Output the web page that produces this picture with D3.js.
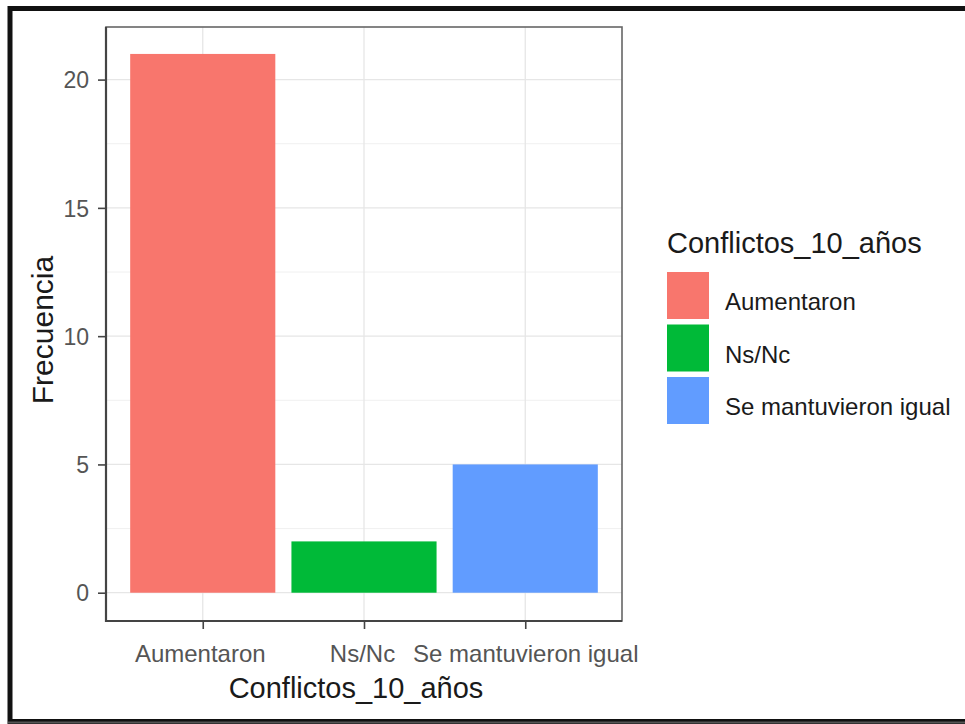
<!DOCTYPE html>
<html>
<head>
<meta charset="utf-8">
<script src="https://cdn.jsdelivr.net/npm/d3@7"></script>
<style>
  html, body { margin: 0; padding: 0; background: #fff; }
  svg text { font-family: "Liberation Sans", Arial, sans-serif; }
</style>
</head>
<body>
<svg id="chart" width="965" height="724"></svg>
<script>
// valores
var categories = ['Aumentaron', 'Ns/Nc', 'Se mantuvieron igual'];
var counts = [21, 2, 5];
var colors = ['#F8766D', '#00BA38', '#619CFF'];
var yTicks = [0, 5, 10, 15, 20];
var yMinor = [2.5, 7.5, 12.5, 17.5];
var xTitle = 'Conflictos_10_años';
var yTitle = 'Frecuencia';
var legendTitle = 'Conflictos_10_años';

var svg = d3.select('#chart');

// marco negro alrededor de la imagen
svg.append('rect').attr('x', 10).attr('y', 8.5).attr('width', 970).attr('height', 713)
  .attr('fill', 'none').attr('stroke', '#111').attr('stroke-width', 5);
svg.append('line').attr('x1', 8).attr('x2', 965).attr('y1', 722.5).attr('y2', 722.5)
  .attr('stroke', '#555').attr('stroke-width', 2);

var P = { l: 106, t: 27, r: 622, b: 621 };

var x = d3.scaleLinear().domain([0.4, 3.6]).range([P.l, P.r]);
var yMax = d3.max(counts) * 1.05;
var y = d3.scaleLinear().domain([-yMax * 0.05, yMax]).range([P.b, P.t]);
var bw = (x(1.9) - x(1)); // ancho de barra 0.9

var g = svg.append('g');

// rejilla
g.selectAll('.minor').data(yMinor).enter().append('line')
  .attr('x1', P.l).attr('x2', P.r)
  .attr('y1', function (d) { return y(d); }).attr('y2', function (d) { return y(d); })
  .attr('stroke', '#f0f0f0').attr('stroke-width', 1);
g.selectAll('.major').data(yTicks).enter().append('line')
  .attr('x1', P.l).attr('x2', P.r)
  .attr('y1', function (d) { return y(d); }).attr('y2', function (d) { return y(d); })
  .attr('stroke', '#e6e6e6').attr('stroke-width', 1.3);
g.selectAll('.vgrid').data(categories).enter().append('line')
  .attr('x1', function (d, i) { return x(i + 1); }).attr('x2', function (d, i) { return x(i + 1); })
  .attr('y1', P.t).attr('y2', P.b)
  .attr('stroke', '#e6e6e6').attr('stroke-width', 1.3);

// barras
g.selectAll('.bar').data(counts).enter().append('rect')
  .attr('x', function (d, i) { return x(i + 1) - bw / 2; })
  .attr('y', function (d) { return y(d); })
  .attr('width', bw)
  .attr('height', function (d) { return y(0) - y(d); })
  .attr('fill', function (d, i) { return colors[i]; });

// borde del panel
g.append('rect').attr('x', P.l).attr('y', P.t).attr('width', P.r - P.l).attr('height', P.b - P.t)
  .attr('fill', 'none').attr('stroke', '#666').attr('stroke-width', 1.6);
g.append('path').attr('d', 'M' + P.l + ',' + P.t + 'V' + P.b + 'H' + P.r)
  .attr('fill', 'none').attr('stroke', '#444').attr('stroke-width', 2.2);

// ejes
var yAxis = d3.axisLeft(y).tickValues(yTicks).tickSize(8).tickPadding(9);
var ga = svg.append('g').attr('transform', 'translate(' + P.l + ',0)').call(yAxis);
ga.select('.domain').remove();
ga.selectAll('line').attr('stroke', '#444').attr('stroke-width', 1.6);
ga.selectAll('text').attr('fill', '#555').attr('dy', '0.36em').style('font-size', '23px');

var xAxis = d3.axisBottom(x).tickValues([1, 2, 3])
  .tickFormat(function (d) { return categories[d - 1]; }).tickSize(8).tickPadding(16);
var gx = svg.append('g').attr('transform', 'translate(0,' + P.b + ')').call(xAxis);
gx.select('.domain').remove();
gx.selectAll('line').attr('stroke', '#444').attr('stroke-width', 1.6);
gx.selectAll('text').attr('fill', '#555').style('font-size', '24px')
  .attr('x', function (d) { return d === 1 ? -3 : (d === 2 ? -2 : 0); });

// títulos
svg.append('text').attr('x', 356).attr('y', 698).attr('text-anchor', 'middle')
  .style('font-size', '29px').attr('fill', '#1a1a1a').text(xTitle);
svg.append('text').attr('transform', 'translate(53,330) rotate(-90)')
  .attr('text-anchor', 'middle').style('font-size', '30px').attr('fill', '#1a1a1a').text(yTitle);

// leyenda
var lg = svg.append('g').attr('transform', 'translate(667,0)');
lg.append('text').attr('x', 0).attr('y', 253).style('font-size', '29px').attr('fill', '#1a1a1a').text(legendTitle);
var items = lg.selectAll('.item').data(categories).enter().append('g')
  .attr('transform', function (d, i) { return 'translate(0,' + (272 + i * 52.5) + ')'; });
items.append('rect').attr('width', 42).attr('height', 47)
  .attr('fill', function (d, i) { return colors[i]; });
items.append('text').attr('x', 58).attr('y', 38).style('font-size', '24px').attr('fill', '#1a1a1a')
  .text(function (d) { return d; });
</script>
</body>
</html>
